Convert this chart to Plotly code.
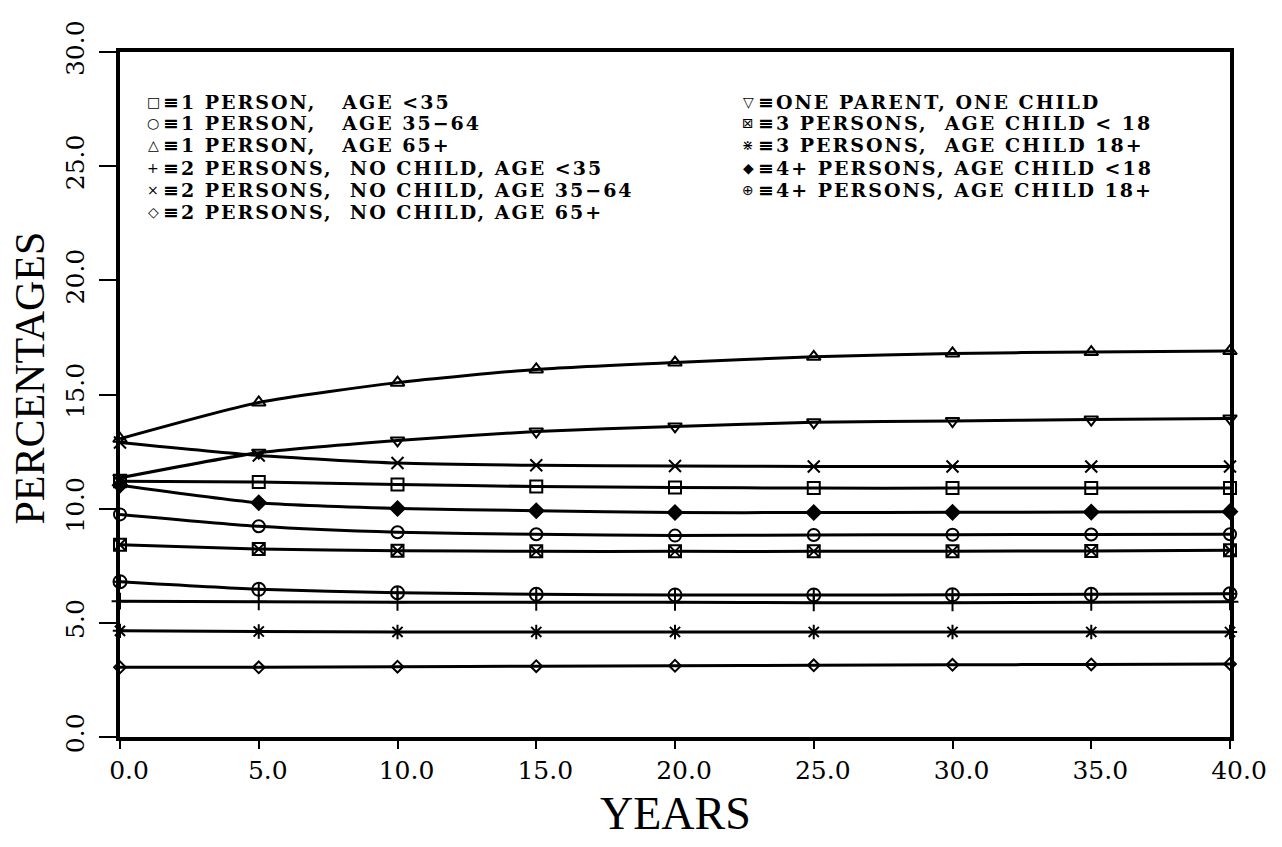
import plotly.graph_objects as go

# ---------------- data ----------------
years = [0, 5, 10, 15, 20, 25, 30, 35, 40]

p1_lt35 = [11.20, 11.17, 11.06, 10.97, 10.93, 10.90, 10.90, 10.90, 10.90]
p1_35_64 = [9.75, 9.23, 8.97, 8.88, 8.82, 8.85, 8.86, 8.87, 8.88]
p1_65 = [13.06, 14.65, 15.52, 16.10, 16.40, 16.65, 16.80, 16.86, 16.90]
p2_lt35 = [5.95, 5.92, 5.90, 5.90, 5.90, 5.88, 5.88, 5.90, 5.92]
p2_35_64 = [12.90, 12.33, 12.00, 11.90, 11.87, 11.85, 11.85, 11.85, 11.85]
p2_65 = [3.05, 3.05, 3.08, 3.10, 3.12, 3.14, 3.16, 3.18, 3.20]
one_parent = [11.35, 12.45, 12.99, 13.38, 13.60, 13.78, 13.84, 13.90, 13.95]
p3_lt18 = [8.42, 8.23, 8.16, 8.13, 8.13, 8.13, 8.14, 8.15, 8.18]
p3_18 = [4.65, 4.62, 4.60, 4.60, 4.60, 4.60, 4.60, 4.60, 4.60]
p4_lt18 = [11.03, 10.26, 10.01, 9.91, 9.83, 9.83, 9.84, 9.85, 9.87]
p4_18 = [6.80, 6.47, 6.32, 6.25, 6.22, 6.22, 6.23, 6.25, 6.27]

series_names = [
    "1 PERSON,\u00a0\u00a0\u00a0AGE <35",
    "1 PERSON,\u00a0\u00a0\u00a0AGE 35\u221264",
    "1 PERSON,\u00a0\u00a0\u00a0AGE 65+",
    "2 PERSONS,\u00a0\u00a0NO CHILD, AGE <35",
    "2 PERSONS,\u00a0\u00a0NO CHILD, AGE 35\u221264",
    "2 PERSONS,\u00a0\u00a0NO CHILD, AGE 65+",
    "ONE PARENT, ONE CHILD",
    "3 PERSONS,\u00a0\u00a0AGE CHILD < 18",
    "3 PERSONS,\u00a0\u00a0AGE CHILD 18+",
    "4+ PERSONS, AGE CHILD <18",
    "4+ PERSONS, AGE CHILD 18+",
]
series_values = [p1_lt35, p1_35_64, p1_65, p2_lt35, p2_35_64, p2_65,
                 one_parent, p3_lt18, p3_18, p4_lt18, p4_18]
plot_symbols = ["square-open", "circle-open", "triangle-up-open", "cross-thin-open",
                "x-thin-open", "diamond-open", "triangle-down-open", "square-x-open",
                "asterisk-open", "diamond", "circle-cross-open"]
legend_glyphs = ["\u25a1", "\u25cb", "\u25b3", "+", "\u00d7", "\u25c7",
                 "\u25bd", "\u22a0", "\u22c7", "\u25c6", "\u2295"]
marker_sizes = [12, 12, 12, 12, 12, 9, 12, 12, 12, 11, 13]

x_ticks = [0, 5, 10, 15, 20, 25, 30, 35, 40]
x_ticklabels = ["0.0", "5.0", "10.0", "15.0", "20.0", "25.0", "30.0", "35.0", "40.0"]
y_ticks = [0, 5, 10, 15, 20, 25, 30]
y_ticklabels = ["0.0", "5.0", "10.0", "15.0", "20.0", "25.0", "30.0"]

# ---------------- figure ----------------
fig = go.Figure()
for name, vals, sym, ms in zip(series_names, series_values, plot_symbols, marker_sizes):
    fig.add_trace(go.Scatter(
        x=years, y=vals, name=name, mode="lines+markers",
        line=dict(color="black", width=3, shape="spline", smoothing=0.6),
        marker=dict(symbol=sym, size=ms, color="black", line=dict(color="black", width=2)),
        cliponaxis=False, showlegend=False,
    ))

# plot area in screen pixels (page has an 8px body margin)
OFF = 8
L, R, T, B = 120, 1230, 47, 737
W, H = 1282 - OFF, 847 - OFF


def px(xs):
    return (xs - L) / (R - L)


def py(ys):
    return (B - ys) / (B - T)


legend_font = dict(family="DejaVu Serif", size=19, color="black", weight="bold")
annotations = []
left_rows = [97, 119, 141, 164, 186, 208]
right_rows = [97, 119, 141, 164, 186]
cols = [(153, 161, left_rows, range(0, 6)), (748, 756, right_rows, range(6, 11))]
for mx, tx, rows, idxs in cols:
    for row, i in zip(rows, idxs):
        annotations.append(dict(
            x=px(mx), y=py(row), xref="paper", yref="paper", text=legend_glyphs[i],
            showarrow=False, xanchor="center", yanchor="middle",
            font=dict(family="DejaVu Sans", size=14, color="black")))
        annotations.append(dict(
            x=px(tx), y=py(row), xref="paper", yref="paper",
            text='<span style="letter-spacing:2px">\u2261' + series_names[i] + "</span>",
            showarrow=False, xanchor="left", yanchor="middle", font=legend_font))

annotations.append(dict(
    x=0.5, y=py(814), xref="paper", yref="paper", text="YEARS", showarrow=False,
    xanchor="center", yanchor="middle",
    font=dict(family="Liberation Serif", size=46, color="black")))
annotations.append(dict(
    x=px(30), y=py(376), xref="paper", yref="paper", text="PERCENTAGES", showarrow=False,
    xanchor="center", yanchor="middle", textangle=-90,
    font=dict(family="Liberation Serif", size=42, color="black")))

fig.update_layout(
    width=W, height=H, autosize=False,
    margin=dict(l=L - OFF, r=W - (R - OFF), t=T - OFF, b=H - (B - OFF), pad=0),
    paper_bgcolor="white", plot_bgcolor="white",
    annotations=annotations,
    showlegend=False,
)
fig.update_xaxes(
    range=[0, 40], tickvals=x_ticks, ticktext=x_ticklabels,
    showgrid=False, zeroline=False,
    showline=True, mirror=True, linecolor="black", linewidth=4,
    ticks="outside", ticklen=8, tickwidth=2, tickcolor="black",
    ticklabelshift=9,
    tickfont=dict(family="DejaVu Serif", size=25, color="black"),
)
fig.update_yaxes(
    range=[0, 30], tickvals=y_ticks, ticktext=y_ticklabels, tickangle=-90,
    showgrid=False, zeroline=False,
    showline=True, mirror=True, linecolor="black", linewidth=4,
    ticks="outside", ticklen=17, tickwidth=2, tickcolor="black",
    ticklabelstandoff=5,
    tickfont=dict(family="DejaVu Serif", size=25, color="black"),
)

fig.write_html("out.html")
